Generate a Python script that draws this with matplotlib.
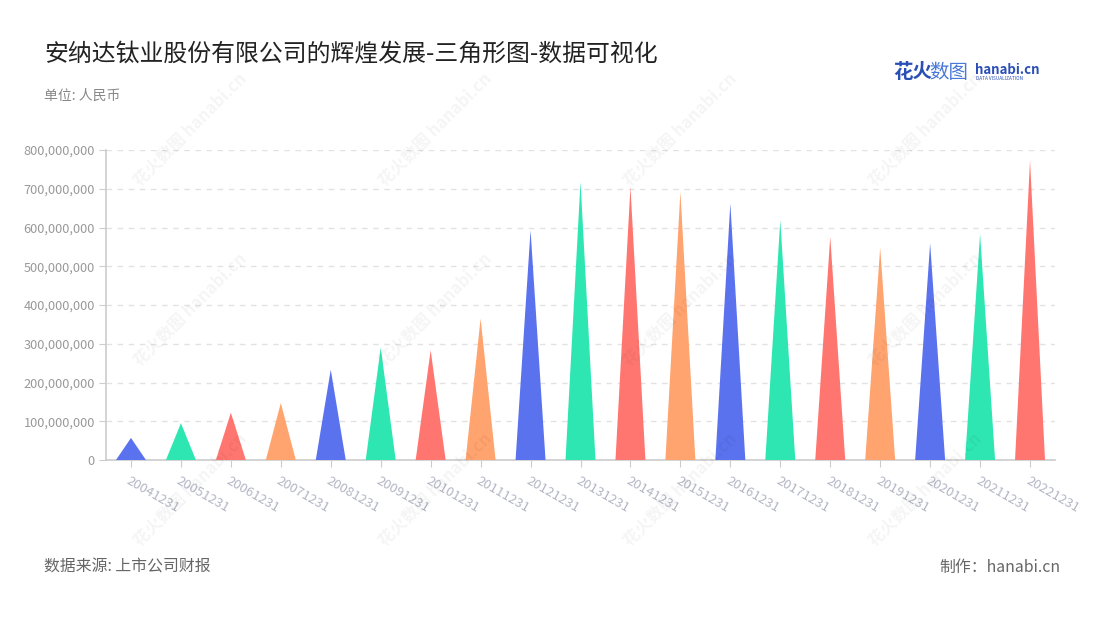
import numpy as np
import matplotlib.pyplot as plt
from matplotlib.ticker import FuncFormatter

plt.rcParams['font.family'] = ['Noto Sans CJK SC', 'DejaVu Sans']

# data (RMB)
dates = ['20041231', '20051231', '20061231', '20071231', '20081231', '20091231',
         '20101231', '20111231', '20121231', '20131231', '20141231', '20151231',
         '20161231', '20171231', '20181231', '20191231', '20201231', '20211231',
         '20221231']
values = [57e6, 95e6, 122e6, 147e6, 233e6, 290e6,
          283e6, 365e6, 593e6, 718e6, 705e6, 692e6,
          662e6, 619e6, 576e6, 548e6, 559e6, 583e6,
          773e6]
palette = ['#5b72ee', '#2ee6b1', '#ff7670', '#ffa36f']

TITLE = '安纳达钛业股份有限公司的辉煌发展-三角形图-数据可视化'
UNIT = '单位: 人民币'
SOURCE = '数据来源: 上市公司财报'
MAKER = '制作：hanabi.cn'

fig = plt.figure(figsize=(11, 6.2), dpi=100)
fig.patch.set_facecolor('white')
ax = fig.add_axes([106 / 1100, 1 - 460 / 620, (1055 - 106) / 1100, 310 / 620])

# --- triangles ---
w = 0.6
for i, v in enumerate(values):
    ax.fill([i - w / 2, i, i + w / 2], [0, v, 0],
            color=palette[i % len(palette)], linewidth=0, zorder=3)

ax.set_xlim(-0.5, len(dates) - 0.5)
ax.set_ylim(0, 800e6)
ax.set_yticks(np.arange(0, 800e6 + 1, 100e6))
ax.yaxis.set_major_formatter(FuncFormatter(lambda v, p: f'{int(v):,}'))
ax.set_xticks(range(len(dates)))
ax.set_xticklabels(dates, rotation=-30, ha='left', va='top',
                   rotation_mode='anchor')

ax.patch.set_alpha(0)
for s in ['top', 'right']:
    ax.spines[s].set_visible(False)
for s in ['left', 'bottom']:
    ax.spines[s].set_color('#cccccc')
    ax.spines[s].set_linewidth(1.2)
ax.tick_params(axis='y', colors='#cccccc', labelcolor='#999999',
               labelsize=9.2, length=5, pad=3)
ax.tick_params(axis='x', colors='#cccccc', labelcolor='#b3b6c4',
               labelsize=9.5, length=5, pad=5)
for y in np.arange(100e6, 800e6 + 1, 100e6):
    ax.axhline(y, color='#e2e2e2', lw=1, ls=(0, (4, 4)), zorder=1)

# --- watermarks (faint, drawn over everything) ---
for wx in [190, 435, 680, 925]:
    for wy in [130, 310, 490]:
        fig.text(wx / 1100, 1 - wy / 620, '花火数图 hanabi.cn', rotation=45,
                 ha='center', va='center', fontsize=12, color='black',
                 alpha=0.045, fontweight='bold', zorder=10)

# --- texts ---
fig.text(44 / 1100, 1 - 55 / 620, TITLE, fontsize=17.2, color='#222222',
         ha='left', va='center')
fig.text(44 / 1100, 1 - 96 / 620, UNIT, fontsize=10, color='#888888',
         ha='left', va='center')
fig.text(44 / 1100, 1 - 567 / 620, SOURCE, fontsize=11.4, color='#666666',
         ha='left', va='center')
fig.text(1060 / 1100, 1 - 567 / 620, MAKER, fontsize=11.4, color='#666666',
         ha='right', va='center')

# logo
fig.text(893 / 1100, 1 - 73 / 620, '花火', fontsize=14, color='#2a4fb5',
         fontweight='bold', ha='left', va='center')
fig.text(929 / 1100, 1 - 73 / 620, '数图', fontsize=14, color='#4a78d8',
         ha='left', va='center')
fig.text(975 / 1100, 1 - 70 / 620, 'hanabi.cn', fontsize=9.5, color='#2a4fb5',
         fontweight='bold', ha='left', va='center')
fig.text(976 / 1100, 1 - 79 / 620, 'DATA VISUALIZATION', fontsize=3.4,
         color='#2a4fb5', ha='left', va='center')

fig.savefig('out.png', dpi=100)
